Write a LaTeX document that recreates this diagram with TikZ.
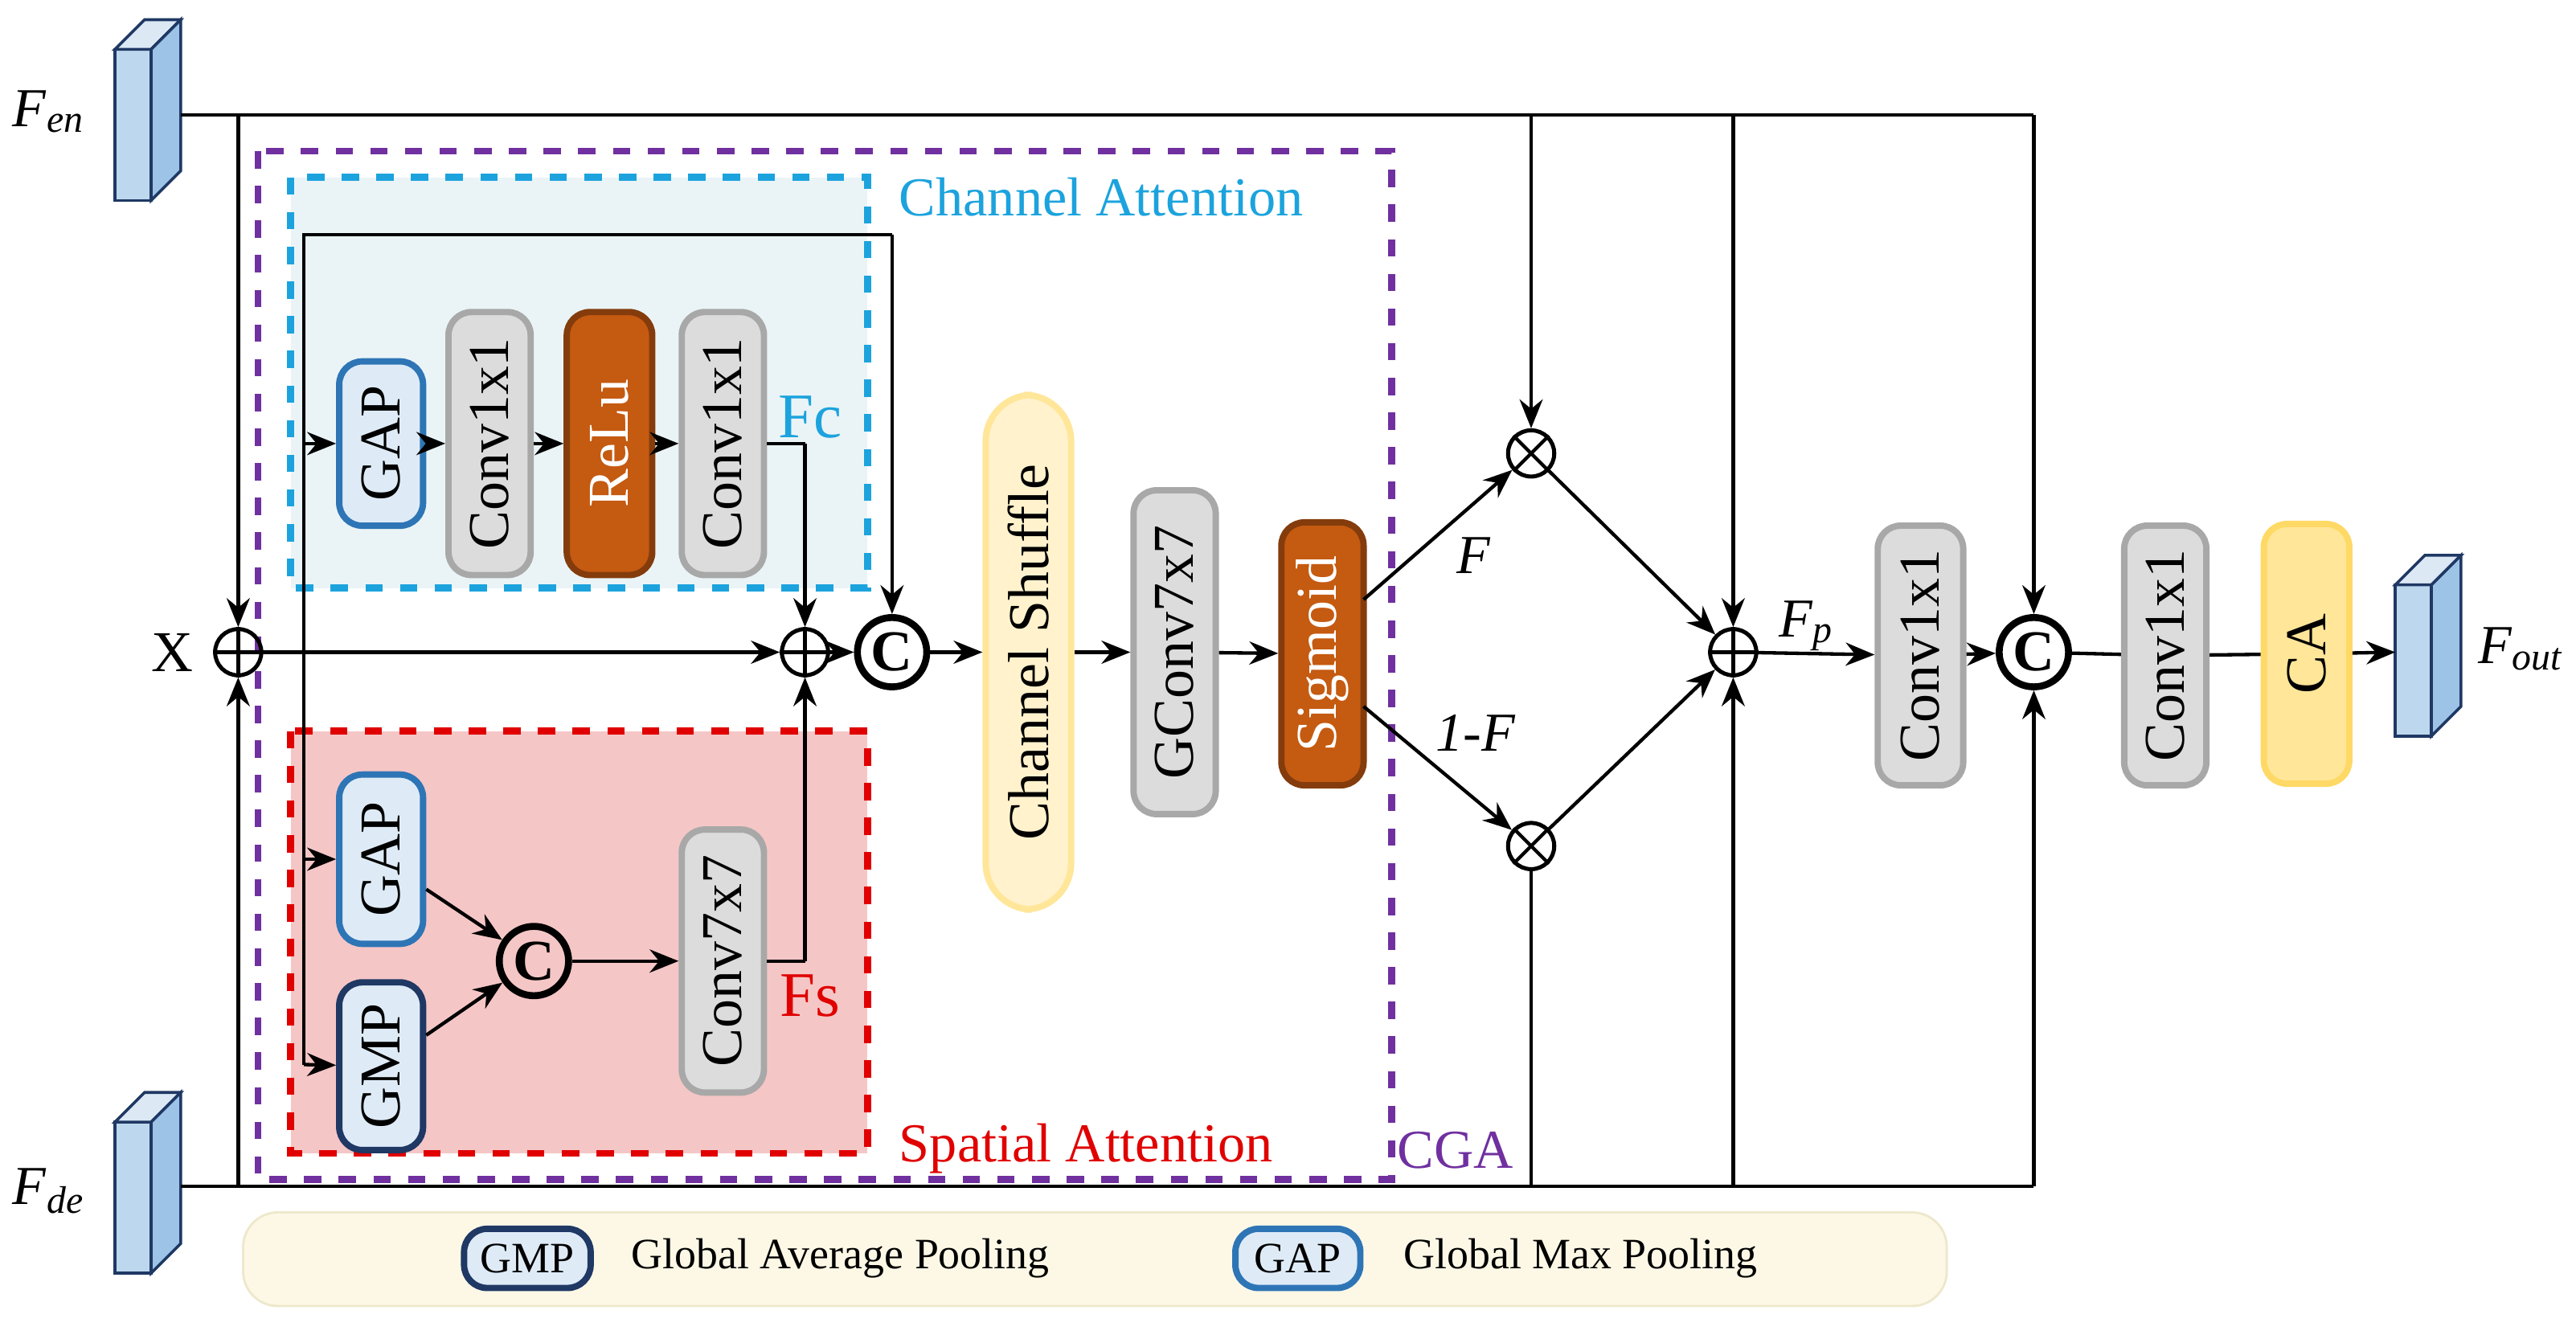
\documentclass[tikz,border=0pt]{standalone}
\usepackage{fontspec}
\setmainfont{Liberation Serif}
\usetikzlibrary{arrows.meta}
\definecolor{cgray}{HTML}{DCDCDC}\definecolor{bgray}{HTML}{A8A8A8}
\definecolor{relu}{HTML}{C55A11}\definecolor{brelu}{HTML}{843C0C}
\definecolor{gapf}{HTML}{DEEBF7}\definecolor{gapb}{HTML}{2E75B6}
\definecolor{gmpb}{HTML}{1F3864}
\definecolor{shf}{HTML}{FFF2CC}\definecolor{shb}{HTML}{FFE699}
\definecolor{caf}{HTML}{FFE699}\definecolor{cab}{HTML}{FFD966}
\definecolor{chf}{HTML}{EAF4F7}\definecolor{chb}{HTML}{1CA3DD}
\definecolor{spf}{HTML}{F5C6C6}\definecolor{spb}{HTML}{E00000}
\definecolor{cga}{HTML}{7030A0}
\definecolor{legf}{HTML}{FDF8E6}\definecolor{legb}{HTML}{EEE8CC}
\definecolor{blkf}{HTML}{BDD7EE}\definecolor{blkb}{HTML}{1F3864}
\definecolor{blkt}{HTML}{DCE9F5}\definecolor{blks}{HTML}{9DC3E6}
\tikzset{
  blk/.style={draw, rounded corners=4pt, rotate=90, inner sep=0pt, line width=1.1pt, font=\fontsize{10}{12}\selectfont},
  conv/.style={blk, fill=cgray, draw=bgray},
  arr/.style={-{Stealth[length=5pt,width=4pt]}, line width=0.6pt},
  ln/.style={line width=0.6pt},
  op/.style={circle, draw, line width=0.7pt, minimum size=8pt, inner sep=0pt},
  cc/.style={circle, draw, line width=1.2pt, minimum size=12pt, inner sep=0pt, font=\bfseries\fontsize{10}{10}\selectfont},
  lab/.style={font=\fontsize{8.5}{10}\selectfont},
}
\newcommand{\oplussym}[1]{\draw[ln] (#1.north)--(#1.south) (#1.west)--(#1.east);}
\newcommand{\otimessym}[1]{\draw[ln] (#1.north west)--(#1.south east) (#1.north east)--(#1.south west);}
\newcommand{\cube}[3]{% x y(bottom of front) name
  \fill[blkf,draw=blkb,line width=0.5pt] (#1,#2) rectangle ++(22,-92);
  \fill[blkt,draw=blkb,line width=0.5pt] (#1,#2-92) -- ++(18,-18) -- ++(22,0) -- ++(-18,18) -- cycle;
  \fill[blks,draw=blkb,line width=0.5pt] (#1+22,#2) -- ++(18,-18) -- ++(0,-92) -- ++(-18,18) -- cycle;
  \coordinate (#3) at (#1+20,#2-55);}
\begin{document}
\begin{tikzpicture}[x=0.01cm,y=-0.01cm]
\useasboundingbox (0,0) rectangle (1568,815);
\draw[fill=legf,draw=legb,rounded corners=6pt] (148,738) rectangle (1185,795);
\draw[fill=chf,draw=chb,dashed,line width=1.2pt] (177,108) rectangle (528,358);
\draw[fill=spf,draw=spb,dashed,line width=1.2pt] (177,445) rectangle (528,702);
\draw[draw=cga,dashed,line width=1.2pt] (157,92) rectangle (847,718);
\node[text=chb,anchor=west] at (535,120) {\fontsize{9.5}{12}\selectfont Channel Attention};
\node[text=spb,anchor=west] at (535,699) {\fontsize{9.5}{12}\selectfont Spatial Attention};
\node[text=cga] at (886,700) {\fontsize{9.5}{12}\selectfont CGA};
\node[text=chb] at (493,254) {\fontsize{11}{14}\selectfont Fc};
\node[text=spb] at (493,606) {\fontsize{11}{14}\selectfont Fs};
\cube{70}{122}{fen}
\cube{70}{775}{fde}
\cube{1458}{448}{fout}
\node at (30,68) {\fontsize{9.5}{12}\selectfont\textit{F}\textsubscript{\textit{en}}};
\node at (30,725) {\fontsize{9.5}{12}\selectfont\textit{F}\textsubscript{\textit{de}}};
\node at (1535,395) {\fontsize{9.5}{12}\selectfont\textit{F}\textsubscript{\textit{out}}};
\node[blk,fill=gapf,draw=gapb,minimum width=100*0.1mm,minimum height=51*0.1mm] (gap1) at (232,270) {GAP};
\node[conv,minimum width=160*0.1mm,minimum height=50*0.1mm] (c1) at (298,270) {Conv1x1};
\node[blk,fill=relu,draw=brelu,text=white,minimum width=160*0.1mm,minimum height=52*0.1mm] (relu) at (371,270) {ReLu};
\node[conv,minimum width=160*0.1mm,minimum height=50*0.1mm] (c2) at (440,270) {Conv1x1};
\node[blk,fill=gapf,draw=gapb,minimum width=103*0.1mm,minimum height=51*0.1mm] (gap2) at (232,523) {GAP};
\node[blk,fill=gapf,draw=gmpb,minimum width=102*0.1mm,minimum height=51*0.1mm] (gmp) at (232,649) {GMP};
\node[cc] (cs) at (325,585) {C};
\node[conv,minimum width=160*0.1mm,minimum height=50*0.1mm] (c7) at (440,585) {Conv7x7};
\node[op] (p1) at (145,397) {}; \oplussym{p1}
\node at (105,397) {\fontsize{10}{12}\selectfont X};
\node[op] (p2) at (490,397) {}; \oplussym{p2}
\node[cc] (cm) at (543,397) {C};
\node[blk,rounded corners=8pt,fill=shf,draw=shb,minimum width=313*0.1mm,minimum height=52*0.1mm] (sh) at (626,397) {Channel Shuffle};
\node[conv,minimum width=197*0.1mm,minimum height=50*0.1mm] (gc) at (715,397) {GConv7x7};
\node[blk,fill=relu,draw=brelu,text=white,minimum width=160*0.1mm,minimum height=50*0.1mm] (sig) at (805,398) {Sigmoid};
\node[op] (m1) at (932,276) {}; \otimessym{m1}
\node[op] (m2) at (932,515) {}; \otimessym{m2}
\node[op] (p3) at (1055,397) {}; \oplussym{p3}
\node[conv,minimum width=158*0.1mm,minimum height=52*0.1mm] (c3) at (1169,399) {Conv1x1};
\node[cc] (cf) at (1238,397) {C};
\node[conv,minimum width=158*0.1mm,minimum height=50*0.1mm] (c4) at (1318,399) {Conv1x1};
\node[blk,fill=caf,draw=cab,minimum width=158*0.1mm,minimum height=52*0.1mm] (ca) at (1404,398) {CA};
\node[draw=gmpb,fill=gapf,line width=1.1pt,rounded corners=4pt,minimum width=77*0.1mm,minimum height=36*0.1mm,inner sep=0pt,font=\fontsize{7.5}{9}\selectfont] (lgmp) at (321,766) {GMP};
\node[anchor=west,font=\fontsize{7.5}{9}\selectfont] at (372,766) {Global Average Pooling};
\node[draw=gapb,fill=gapf,line width=1.1pt,rounded corners=4pt,minimum width=76*0.1mm,minimum height=36*0.1mm,inner sep=0pt,font=\fontsize{7.5}{9}\selectfont] (lgap) at (790,766) {GAP};
\node[anchor=west,font=\fontsize{7.5}{9}\selectfont] at (842,766) {Global Max Pooling};
\node[font=\fontsize{9.5}{12}\itshape] at (897,338) {F};
\node[font=\fontsize{9.5}{12}\itshape] at (898,446) {1-F};
\node[font=\fontsize{9.5}{12}\selectfont] at (1100,381) {\textit{F}\textsubscript{\textit{p}}};
\coordinate (tR) at (1238,70); \coordinate (bR) at (1238,722);
\coordinate (fenE) at (110,70); \coordinate (fdeE) at (110,722);
\coordinate (t1) at (145,70); \coordinate (t2) at (932,70); \coordinate (t3) at (1055,70);
\coordinate (b1) at (145,722); \coordinate (b2) at (932,722); \coordinate (b3) at (1055,722);
\coordinate (v0) at (185,143); \coordinate (v1) at (185,648); \coordinate (vc) at (543,143);
\coordinate (k1) at (490,270); \coordinate (k2) at (490,585);
\coordinate (s1) at (830,365); \coordinate (s2) at (830,430); \coordinate (oin) at (1458,397);
\draw[ln] (fenE) -- (tR); \draw[arr] (tR) -- (cf);
\draw[ln] (fdeE) -- (bR); \draw[arr] (bR) -- (cf);
\draw[arr] (t1) -- (p1); \draw[arr] (b1) -- (p1);
\draw[arr] (t2) -- (m1); \draw[ln] (b2) -- (m2.south);
\draw[arr] (t3) -- (p3); \draw[arr] (b3) -- (p3);
\draw[arr] (p1) -- (p2);
\draw[ln] (v1) -- (v0) -- (vc); \draw[arr] (vc) -- (cm);
\draw[arr] (185,270) -- (gap1);
\draw[arr] (gap1) -- (c1); \draw[arr] (c1) -- (relu); \draw[arr] (relu) -- (c2);
\draw[ln] (c2.south |- k1) -- (k1); \draw[arr] (k1) -- (p2);
\draw[arr] (185,523) -- (gap2); \draw[arr] (v1) -- (gmp);
\draw[arr] (gap2) -- (cs); \draw[arr] (gmp) -- (cs); \draw[arr] (cs) -- (c7);
\draw[ln] (c7.south |- k2) -- (k2); \draw[arr] (k2) -- (p2);
\draw[arr] (p2) -- (cm); \draw[arr] (cm) -- (sh); \draw[arr] (sh) -- (gc); \draw[arr] (gc) -- (sig);
\draw[arr] (s1) -- (m1);
\draw[arr] (s2) -- (m2);
\draw[arr] (m1) -- (p3); \draw[arr] (m2) -- (p3);
\draw[arr] (p3) -- (c3);
\draw[arr] (c3) -- (cf); \draw[ln] (cf) -- (c4); \draw[ln] (c4) -- (ca);
\draw[arr] (ca) -- (oin);
\end{tikzpicture}
\end{document}
